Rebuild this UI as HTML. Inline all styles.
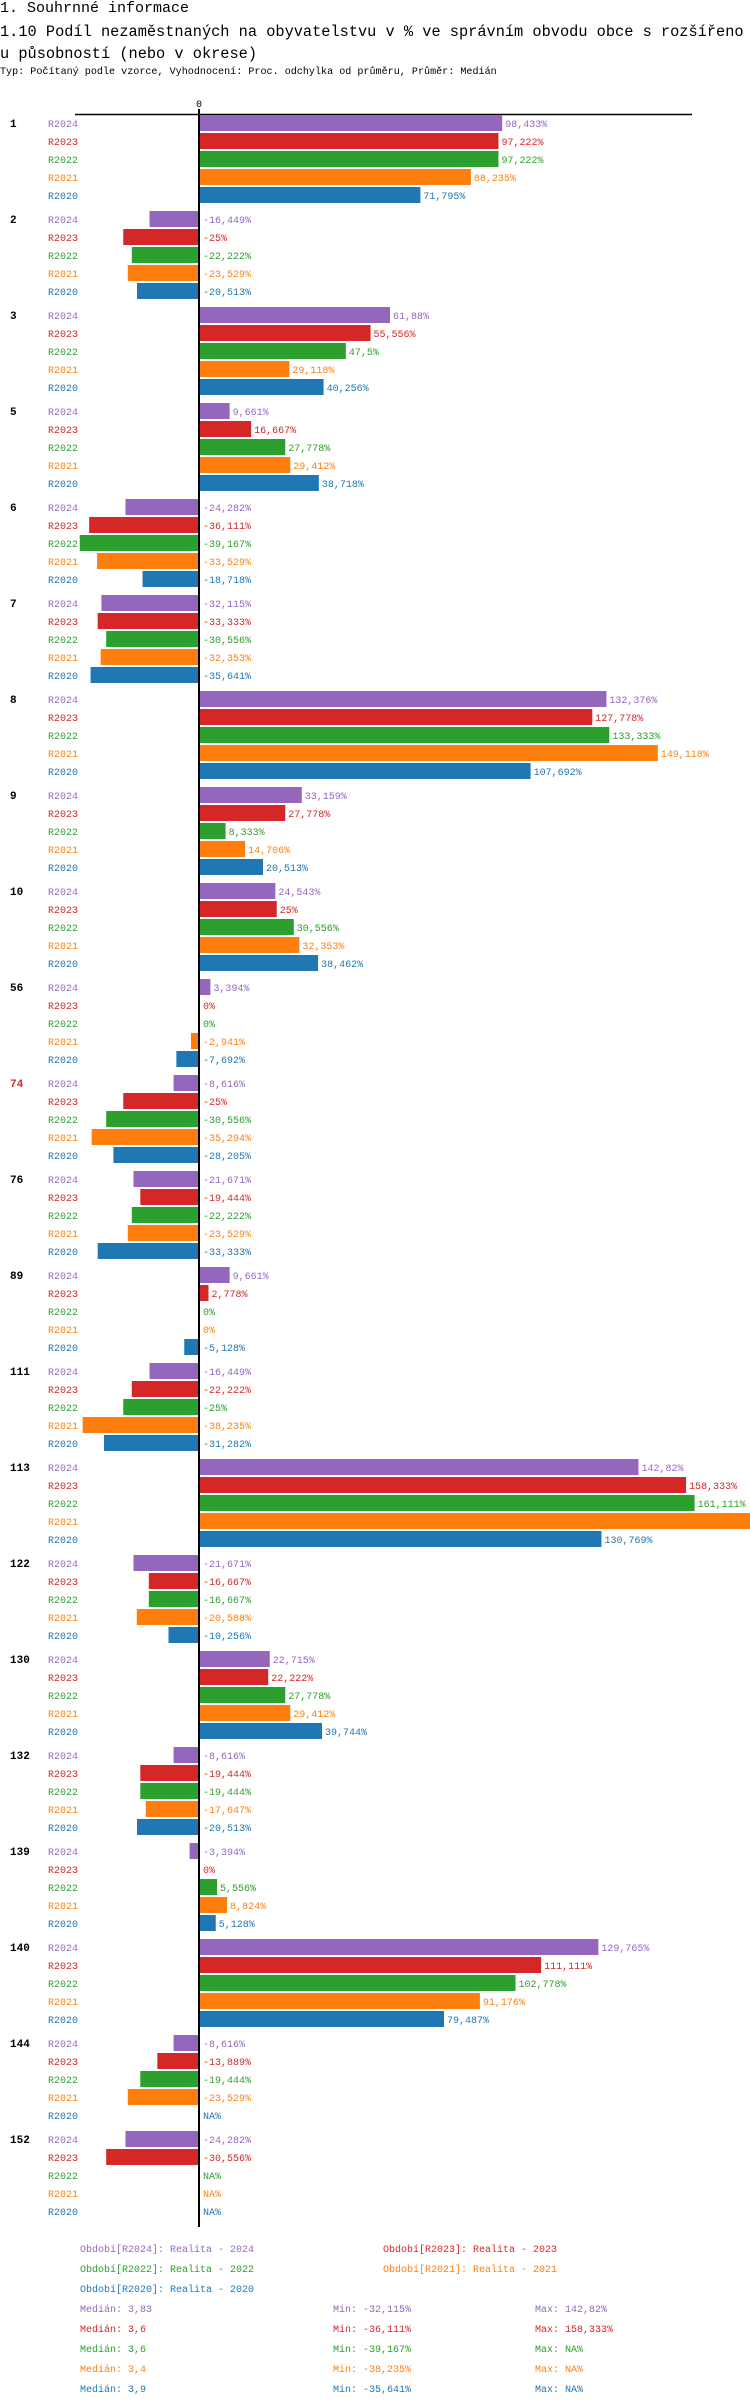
<!DOCTYPE html>
<html><head><meta charset="utf-8">
<style>
html,body{margin:0;padding:0;background:#fff;}
body{width:750px;height:2406px;position:relative;overflow:hidden;font-family:"Liberation Mono","DejaVu Sans Mono",monospace;}
.t{position:absolute;left:0;white-space:nowrap;color:#000;max-width:750px;overflow:hidden;}
</style></head>
<body>
<div class="t" style="top:0px;font-size:15px;line-height:17px;">1. Souhrnné informace</div>
<div class="t" style="top:21px;font-size:15.3px;line-height:22px;">1.10 Podíl nezaměstnaných na obyvatelstvu v % ve správním obvodu obce s rozšířeno<br>u působností (nebo v okrese)</div>
<div class="t" style="top:66px;font-size:10.1px;line-height:14px;">Typ: Počítaný podle vzorce, Vyhodnocení: Proc. odchylka od průměru, Průměr: Medián</div>
<svg id="chart" width="750" height="2406" style="position:absolute;left:0;top:0;overflow:hidden" font-family="Liberation Mono, DejaVu Sans Mono, monospace"></svg>
<script>
const categories = ["1","2","3","5","6","7","8","9","10","56","74","76","89","111","113","122","130","132","139","140","144","152"];
const seriesNames = ["R2024","R2023","R2022","R2021","R2020"];
const r2024 = [98.433,-16.449,61.88,9.661,-24.282,-32.115,132.376,33.159,24.543,3.394,-8.616,-21.671,9.661,-16.449,142.82,-21.671,22.715,-8.616,-3.394,129.765,-8.616,-24.282];
const r2023 = [97.222,-25,55.556,16.667,-36.111,-33.333,127.778,27.778,25,0,-25,-19.444,2.778,-22.222,158.333,-16.667,22.222,-19.444,0,111.111,-13.889,-30.556];
const r2022 = [97.222,-22.222,47.5,27.778,-39.167,-30.556,133.333,8.333,30.556,0,-30.556,-22.222,0,-25,161.111,-16.667,27.778,-19.444,5.556,102.778,-19.444,null];
const r2021 = [88.235,-23.529,29.118,29.412,-33.529,-32.353,149.118,14.706,32.353,-2.941,-35.294,-23.529,0,-38.235,200,-20.588,29.412,-17.647,8.824,91.176,-23.529,null];
const r2020 = [71.795,-20.513,40.256,38.718,-18.718,-35.641,107.692,20.513,38.462,-7.692,-28.205,-33.333,-5.128,-31.282,130.769,-10.256,39.744,-20.513,5.128,79.487,null,null];
const series = [r2024,r2023,r2022,r2021,r2020];
const colors = ["#9467bd","#d62728","#2ca02c","#ff7f0e","#1f77b4"];
const legendText = ["Období[R2024]: Realita - 2024","Období[R2023]: Realita - 2023","Období[R2022]: Realita - 2022","Období[R2021]: Realita - 2021","Období[R2020]: Realita - 2020"];
const medianText = ["Medián: 3,83","Medián: 3,6","Medián: 3,6","Medián: 3,4","Medián: 3,9"];
const minText = ["Min: -32,115%","Min: -36,111%","Min: -39,167%","Min: -38,235%","Min: -35,641%"];
const maxText = ["Max: 142,82%","Max: 158,333%","Max: NA%","Max: NA%","Max: NA%"];
const redCats = ["74"];

const svg = document.getElementById('chart');
const NS = 'http://www.w3.org/2000/svg';
const X0 = 200, SCALE = 3.07, TOP = 115, GROUP = 96, ROW = 18, BARH = 16;
function x(v){ return X0 + v*SCALE; }
function groupY(i){ return TOP + i*GROUP; }
function mk(tag, attrs, txt){
  const e = document.createElementNS(NS, tag);
  for (const k in attrs) e.setAttribute(k, attrs[k]);
  if (txt !== undefined) e.textContent = txt;
  svg.appendChild(e);
  return e;
}
function fmt(v){ return (v===null?'NA':String(v).replace('.',','))+'%'; }

let el = mk('line',{x1:75,x2:692,y1:114.5,y2:114.5,stroke:'#000','stroke-width':1.5});


el = mk('text',{x:X0-1,y:107,'font-size':10,'text-anchor':'middle',fill:'#000'},'0');



categories.forEach((c,i)=>{
  const gy = groupY(i);
  el = mk('text',{x:10,y:gy+12,'font-size':11,'font-weight':'bold',fill:redCats.includes(c)?'#d62728':'#000'},c);
  
  
  series.forEach((s,j)=>{
    const y = gy + j*ROW;
    el = mk('text',{x:48,y:y+12,'font-size':10,fill:colors[j]},seriesNames[j]);
    
    
    const v = s[i];
    let lx = X0+3;
    if (v!==null && v!==0){
      const a = x(Math.min(0,v)), b = Math.min(750, x(Math.max(0,v)));
      el = mk('rect',{x:a,y:y,width:Math.max(0,b-a),height:BARH,fill:colors[j]});
      
      
      if (v>0) lx = b+3;
    }
    if (lx < 740) {
      el = mk('text',{x:lx,y:y+12,'font-size':10,fill:colors[j]},fmt(v));
      
      
    }
  });
});
el = mk('line',{x1:X0-1,x2:X0-1,y1:109,y2:2227,stroke:'#000','stroke-width':2});



const legPos = [[80,2252],[383,2252],[80,2272],[383,2272],[80,2292]];
legendText.forEach((t,j)=>{
  el = mk('text',{x:legPos[j][0],y:legPos[j][1],'font-size':10,fill:colors[j]},t);
  
  
});
colors.forEach((col,j)=>{
  const y = 2312 + j*20;
  el = mk('text',{x:80,y:y,'font-size':10,fill:col},medianText[j]);
  
  
  el = mk('text',{x:333,y:y,'font-size':10,fill:col},minText[j]);
  
  
  el = mk('text',{x:535,y:y,'font-size':10,fill:col},maxText[j]);
  
  
});
</script>
</body></html>
